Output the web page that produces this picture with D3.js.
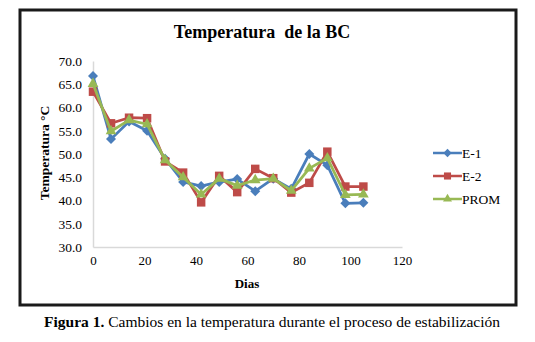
<!DOCTYPE html>
<html>
<head>
<meta charset="utf-8">
<script src="https://cdn.jsdelivr.net/npm/d3@7"></script>
<style>
  body { margin: 0; background: #fff; }
  text { font-family: "Liberation Serif", "Times New Roman", serif; }
</style>
</head>
<body>
<div id="my_dataviz"></div>
<script>
// data
var dias = [0, 7, 14, 21, 28, 35, 42, 49, 56, 63, 70, 77, 84, 91, 98, 105];
var e1   = [66.8, 53.2, 57.0, 55.0, 49.0, 44.0, 43.1, 44.0, 44.6, 42.0, 44.7, 42.5, 50.0, 47.6, 39.4, 39.5];
var e2   = [63.4, 56.6, 57.8, 57.7, 48.4, 46.0, 39.6, 45.3, 41.8, 46.8, 44.8, 41.7, 43.8, 50.5, 43.0, 43.0];
var prom = [65.1, 54.9, 57.3, 56.4, 48.7, 45.0, 41.3, 44.7, 43.2, 44.4, 44.7, 42.1, 46.9, 49.1, 41.2, 41.3];
var yTicks = [30, 35, 40, 45, 50, 55, 60, 65, 70];
var xTicks = [0, 20, 40, 60, 80, 100, 120];

var series = [
  {name: "E-1", values: e1, color: "#4a7ebb", symbol: d3.symbolSquare, size: 50, rot: 45},
  {name: "E-2", values: e2, color: "#be4b48", symbol: d3.symbolSquare, size: 72, rot: 0},
  {name: "PROM", values: prom, color: "#98b954", symbol: d3.symbolTriangle, size: 50, rot: 0}
];

var margin = {top: 61, left: 93},
    width = 309,
    height = 186;

var svg = d3.select("#my_dataviz")
  .append("svg")
    .attr("width", 535)
    .attr("height", 342);

// outer frame
svg.append("rect")
  .attr("x", 20).attr("y", 10)
  .attr("width", 496).attr("height", 295)
  .attr("fill", "none")
  .attr("stroke", "#1a1a1a")
  .attr("stroke-width", 3);

svg.append("text")
  .attr("x", 262).attr("y", 38)
  .attr("text-anchor", "middle")
  .attr("xml:space", "preserve")
  .style("font-size", "18px")
  .style("font-weight", "bold")
  .text("Temperatura  de la BC");

var g = svg.append("g")
  .attr("transform", "translate(" + margin.left + "," + margin.top + ")");

var x = d3.scaleLinear().domain([0, 120]).range([0, width]);
var y = d3.scaleLinear().domain([30, 70]).range([height, 0]);

// X axis
var xAxis = g.append("g")
  .attr("transform", "translate(0," + height + ")")
  .call(d3.axisBottom(x).tickValues(xTicks).tickSize(0).tickPadding(9));
xAxis.select(".domain").attr("stroke", "#d9d9d9").attr("stroke-width", 1.5);
xAxis.selectAll("text")
  .style("font-size", "13px")
  .style("font-family", "Liberation Serif")
  .attr("fill", "#000");

// Y axis
var yAxis = g.append("g")
  .call(d3.axisLeft(y).tickValues(yTicks).tickFormat(d3.format(".1f")).tickSize(0).tickPadding(11));
yAxis.select(".domain").attr("stroke", "#d9d9d9").attr("stroke-width", 1.5);
yAxis.selectAll("text")
  .style("font-size", "13.5px")
  .style("font-family", "Liberation Serif")
  .attr("fill", "#000");

// axis titles
svg.append("text")
  .attr("x", 247).attr("y", 288)
  .attr("text-anchor", "middle")
  .style("font-size", "13px")
  .style("font-weight", "bold")
  .text("Dias");

svg.append("text")
  .attr("transform", "translate(49,153)rotate(-90)")
  .attr("text-anchor", "middle")
  .style("font-size", "13.5px")
  .style("font-weight", "bold")
  .text("Temperatura °C");

// lines + markers
var line = d3.line()
  .x(function(d, i) { return x(dias[i]); })
  .y(function(d) { return y(d); });

series.forEach(function(s) {
  g.append("path")
    .datum(s.values)
    .attr("d", line)
    .attr("fill", "none")
    .attr("stroke", s.color)
    .attr("stroke-width", 2.75)
    .attr("stroke-linejoin", "round");

  g.selectAll(".m-" + s.name)
    .data(s.values)
    .enter()
    .append("path")
    .attr("d", d3.symbol().type(s.symbol).size(s.size))
    .attr("transform", function(d, i) {
      return "translate(" + x(dias[i]) + "," + y(d) + ")rotate(" + s.rot + ")";
    })
    .attr("fill", s.color);
});

// legend
var legend = svg.append("g")
  .attr("transform", "translate(433,153)");

series.forEach(function(s, i) {
  var row = legend.append("g").attr("transform", "translate(0," + (i * 23) + ")");
  row.append("line")
    .attr("x1", 0).attr("x2", 29)
    .attr("stroke", s.color)
    .attr("stroke-width", 2.5);
  row.append("path")
    .attr("d", d3.symbol().type(s.symbol).size(s.size * 0.7))
    .attr("transform", "translate(14.5,0)rotate(" + s.rot + ")")
    .attr("fill", s.color);
  row.append("text")
    .attr("x", 29).attr("y", 4.5)
    .style("font-size", "13.5px")
    .text(s.name);
});

// caption
var cap = svg.append("text")
  .attr("x", 44).attr("y", 327)
  .attr("textLength", 456)
  .attr("lengthAdjust", "spacingAndGlyphs")
  .style("font-size", "14px");
cap.append("tspan").style("font-weight", "bold").text("Figura 1.");
cap.append("tspan").text(" Cambios en la temperatura durante el proceso de estabilización");
</script>
</body>
</html>
